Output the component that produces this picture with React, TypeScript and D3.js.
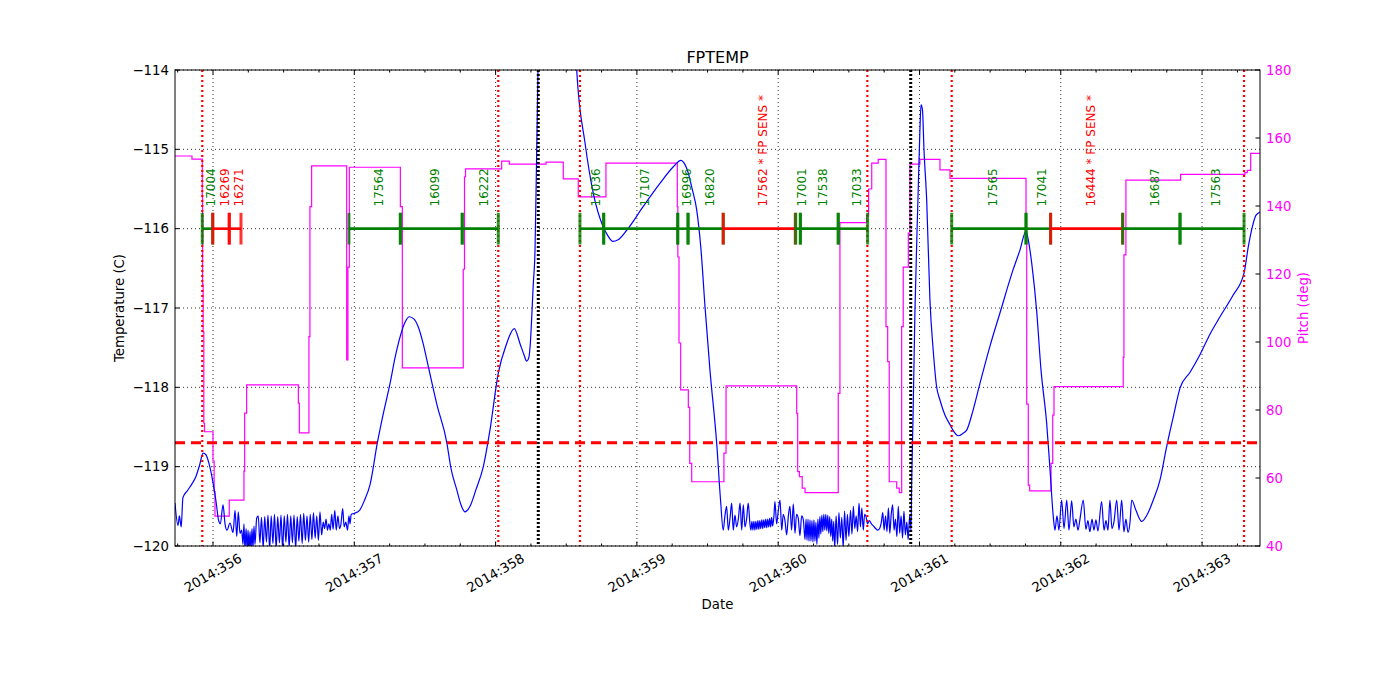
import React from "react";
import * as d3 from "d3";

// axis ticks
const dayTicks = [356, 357, 358, 359, 360, 361, 362, 363];
const tempTicks = [-120, -119, -118, -117, -116, -115, -114];
const pitchTicks = [40, 60, 80, 100, 120, 140, 160, 180];

// event lines (day of year)
const radZoneDays = [355.924, 358.019, 358.597, 360.631, 361.228, 363.297];
const perigeeDays = [358.302, 360.938];
const planningLimit = -118.7;

// observations
const obsLabels = [
  "17004", "16269", "16271", "17564", "16099", "16222", "17036", "17107", "16996", "16820",
  "17562 * FP SENS *", "17001", "17538", "17033", "17565", "17041", "16444 * FP SENS *", "16687", "17563",
];
const obsStart = [
  355.924, 355.998, 356.115, 356.962, 357.326, 357.764, 358.597, 358.765, 359.289, 359.362,
  359.611, 360.124, 360.157, 360.425, 361.228, 361.754, 361.928, 362.438, 362.844,
];
const obsStop = [
  355.998, 356.115, 356.198, 357.326, 357.764, 358.019, 358.765, 359.289, 359.362, 359.611,
  360.121, 360.157, 360.425, 360.633, 361.754, 361.928, 362.438, 362.844, 363.297,
];
const obsSensitive = [
  false, true, true, false, false, false, false, false, false, false,
  true, false, false, false, false, false, true, false, false,
];

// FPTEMP (C)
const fptemp: [number, number][] = [
  [355.731, -119.46], [355.752, -119.74], [355.762, -119.62], [355.775, -119.76], [355.787, -119.39],
  [355.82, -119.3], [355.85, -119.22], [355.88, -119.12], [355.905, -118.98], [355.93, -118.83],
  [355.95, -118.85], [355.97, -118.95], [356.0, -119.2], [356.02, -119.42], [356.04, -119.68], [356.052, -119.72],
  [356.071, -119.48], [356.085, -119.72], [356.099, -119.8], [356.12, -119.71], [356.142, -119.83],
  [356.156, -119.55], [356.168, -119.88], [356.179, -119.57], [356.191, -119.84], [356.203, -119.8],
  [356.212, -119.98], [356.219, -119.72], [356.226, -120.05], [356.234, -119.78], [356.241, -120.05],
  [356.248, -119.8], [356.255, -120.05], [356.262, -119.82], [356.269, -120.05], [356.276, -119.78],
  [356.283, -120.03], [356.29, -119.75], [356.297, -119.98], [356.309, -119.65],
  [356.32, -119.62], [356.332, -119.96], [356.343, -119.64], [356.355, -120.02], [356.366, -119.63],
  [356.378, -119.95], [356.389, -119.61], [356.401, -120.04], [356.412, -119.62], [356.424, -119.97],
  [356.435, -119.6], [356.447, -120.03], [356.458, -119.63], [356.47, -119.96], [356.481, -119.61],
  [356.493, -120.04], [356.504, -119.62], [356.516, -119.95], [356.527, -119.6], [356.539, -120.02],
  [356.55, -119.62], [356.562, -119.96], [356.573, -119.61], [356.585, -120.03], [356.596, -119.63],
  [356.608, -119.94], [356.619, -119.6], [356.631, -119.97], [356.642, -119.59], [356.654, -119.93],
  [356.665, -119.62], [356.677, -119.95], [356.688, -119.6], [356.7, -119.92], [356.711, -119.58],
  [356.723, -119.9], [356.734, -119.62], [356.746, -119.93], [356.757, -119.57], [356.769, -119.86],
  [356.78, -119.7], [356.79, -119.78], [356.8, -119.66], [356.81, -119.8], [356.82, -119.72],
  [356.83, -119.8], [356.84, -119.6], [356.85, -119.79], [356.862, -119.55], [356.872, -119.8],
  [356.884, -119.62], [356.895, -119.78], [356.905, -119.73], [356.918, -119.53], [356.928, -119.76],
  [356.94, -119.7], [356.952, -119.8], [356.962, -119.62], [356.97, -119.72], [356.978, -119.6],
  [356.997, -119.59], [357.037, -119.55], [357.073, -119.42], [357.111, -119.23], [357.163, -118.7],
  [357.203, -118.35], [357.253, -117.95], [357.288, -117.63], [357.323, -117.37], [357.359, -117.18],
  [357.389, -117.11], [357.423, -117.14], [357.453, -117.24], [357.486, -117.44], [357.524, -117.74],
  [357.585, -118.22], [357.654, -118.69], [357.684, -119.02], [357.725, -119.29], [357.755, -119.48],
  [357.783, -119.57], [357.819, -119.5], [357.861, -119.29], [357.913, -119.0], [357.96, -118.54],
  [358.019, -117.82], [358.074, -117.47], [358.132, -117.26], [358.173, -117.45], [358.201, -117.59],
  [358.22, -117.67], [358.236, -117.62], [358.244, -117.49], [358.267, -116.69], [358.279, -116.27],
  [358.291, -115.01], [358.3, -114.0], [358.307, -113.12], [358.44, -111.0], [358.562, -113.5],
  [358.574, -114.0], [358.633, -114.92], [358.691, -115.55], [358.762, -115.98], [358.795, -116.09],
  [358.829, -116.16], [358.867, -116.14], [358.928, -116.02], [359.045, -115.72], [359.163, -115.43],
  [359.258, -115.22], [359.312, -115.14], [359.333, -115.17], [359.364, -115.3], [359.39, -115.49],
  [359.423, -115.76], [359.454, -116.27], [359.482, -116.98], [359.517, -117.78], [359.565, -118.71],
  [359.592, -119.42], [359.611, -119.8],
  [359.623, -119.62], [359.635, -119.5], [359.647, -119.8], [359.659, -119.65], [359.671, -119.46],
  [359.682, -119.8], [359.694, -119.61], [359.706, -119.76], [359.718, -119.66], [359.73, -119.46],
  [359.742, -119.8], [359.753, -119.48], [359.765, -119.76], [359.777, -119.65], [359.788, -119.46],
  [359.8, -119.72], [359.807, -119.8], [359.814, -119.69], [359.821, -119.8], [359.828, -119.69],
  [359.835, -119.8], [359.842, -119.69], [359.849, -119.79], [359.856, -119.68], [359.863, -119.79],
  [359.87, -119.68], [359.877, -119.78], [359.884, -119.67], [359.891, -119.78], [359.898, -119.67],
  [359.905, -119.77], [359.912, -119.66], [359.919, -119.77], [359.926, -119.66], [359.933, -119.76],
  [359.94, -119.65], [359.947, -119.76], [359.954, -119.64], [359.961, -119.75], [359.97, -119.62],
  [359.977, -119.44], [359.989, -119.72], [360.001, -119.55], [360.013, -119.42], [360.025, -119.8],
  [360.036, -119.6], [360.048, -119.68], [360.06, -119.86], [360.072, -119.62], [360.083, -119.5],
  [360.095, -119.8], [360.107, -119.47], [360.119, -119.84], [360.13, -119.6], [360.142, -119.65],
  [360.154, -119.87], [360.166, -119.62], [360.178, -119.67], [360.19, -119.92], [360.197, -119.66],
  [360.204, -119.93], [360.211, -119.66], [360.218, -119.94], [360.225, -119.67], [360.232, -119.94],
  [360.239, -119.68], [360.246, -119.95], [360.253, -119.67], [360.26, -119.94], [360.267, -119.7],
  [360.274, -119.98], [360.281, -119.66], [360.288, -119.9], [360.295, -119.63], [360.302, -119.85],
  [360.309, -119.61], [360.316, -119.82], [360.323, -119.6], [360.33, -119.8], [360.337, -119.6],
  [360.344, -119.81], [360.351, -119.61], [360.358, -119.84], [360.365, -119.63], [360.372, -119.88],
  [360.379, -119.66], [360.386, -119.94], [360.393, -119.69], [360.4, -120.02], [360.41, -119.62],
  [360.42, -119.98], [360.43, -119.58], [360.44, -119.9], [360.45, -119.64], [360.46, -120.02],
  [360.47, -119.56], [360.48, -119.93], [360.49, -119.6], [360.5, -119.88], [360.512, -119.55],
  [360.522, -119.85], [360.532, -119.5], [360.542, -119.78], [360.552, -119.62], [360.562, -119.82],
  [360.572, -119.46], [360.582, -119.76], [360.592, -119.52], [360.602, -119.8], [360.612, -119.6],
  [360.622, -119.63], [360.632, -119.72], [360.645, -119.68], [360.66, -119.72], [360.675, -119.75],
  [360.69, -119.78], [360.705, -119.8], [360.718, -119.78], [360.73, -119.7], [360.74, -119.58],
  [360.75, -119.8], [360.76, -119.62], [360.77, -119.82], [360.78, -119.52], [360.79, -119.84],
  [360.8, -119.6], [360.81, -119.48], [360.82, -119.8], [360.83, -119.66], [360.84, -119.88],
  [360.85, -119.5], [360.86, -119.84], [360.87, -119.62], [360.88, -119.9], [360.89, -119.56],
  [360.9, -119.86], [360.91, -119.7], [360.92, -119.92], [360.93, -119.62], [360.94, -119.8],
  [360.945, -119.17], [360.954, -118.41], [360.968, -117.03], [360.989, -115.64], [361.003, -114.76],
  [361.011, -114.44], [361.021, -114.5], [361.032, -115.01], [361.051, -115.64], [361.074, -116.9],
  [361.097, -117.53], [361.121, -117.99], [361.145, -118.16], [361.18, -118.35], [361.216, -118.47],
  [361.237, -118.54], [361.274, -118.61], [361.308, -118.58], [361.334, -118.54], [361.379, -118.29],
  [361.428, -117.95], [361.499, -117.48], [361.57, -117.06], [361.662, -116.52], [361.711, -116.27],
  [361.754, -116.03], [361.77, -116.14], [361.796, -116.46], [361.829, -117.03], [361.86, -117.78],
  [361.9, -118.45], [361.924, -119.04], [361.947, -119.63], [361.959, -119.8],
  [361.973, -119.62], [361.987, -119.8], [362.006, -119.42], [362.023, -119.78], [362.042, -119.42],
  [362.058, -119.8], [362.077, -119.43], [362.093, -119.76], [362.107, -119.66], [362.122, -119.8],
  [362.136, -119.66], [362.159, -119.42], [362.178, -119.79], [362.192, -119.68], [362.206, -119.82],
  [362.221, -119.66], [362.235, -119.8], [362.249, -119.67], [362.263, -119.81], [362.289, -119.44],
  [362.306, -119.8], [362.32, -119.68], [362.334, -119.8], [362.348, -119.42], [362.362, -119.78],
  [362.376, -119.7], [362.396, -119.42], [362.412, -119.8], [362.431, -119.42], [362.447, -119.82],
  [362.461, -119.66], [362.476, -119.83], [362.49, -119.7], [362.502, -119.42],
  [362.532, -119.55], [362.573, -119.69], [362.61, -119.61], [362.655, -119.42], [362.702, -119.17],
  [362.749, -118.75], [362.794, -118.39], [362.844, -118.01], [362.915, -117.81], [362.985, -117.59],
  [363.056, -117.33], [363.127, -117.11], [363.219, -116.84], [363.297, -116.56], [363.327, -116.23],
  [363.354, -115.99], [363.382, -115.83], [363.41, -115.79],
];

// pitch (deg), held until the next sample
const pitch: [number, number][] = [
  [355.731, 154.7], [355.851, 153.8], [355.924, 142.7], [355.926, 117.0], [355.93, 103.0],
  [355.935, 76.1], [355.94, 73.6], [356.0, 65.0], [356.008, 56.0], [356.014, 48.8],
  [356.115, 53.5], [356.219, 62.0], [356.224, 79.1], [356.238, 87.4], [356.604, 82.0],
  [356.611, 73.3], [356.679, 101.6], [356.686, 139.8], [356.698, 151.8], [356.946, 94.7],
  [356.955, 122.0], [356.965, 151.4], [357.326, 139.8], [357.34, 92.4], [357.771, 121.4],
  [357.78, 148.6], [357.787, 150.9], [358.043, 153.2], [358.097, 152.3], [358.357, 152.9],
  [358.479, 148.0], [358.585, 142.7], [358.781, 152.6], [359.286, 139.8], [359.29, 125.0],
  [359.298, 99.7], [359.31, 85.9], [359.364, 80.8], [359.374, 64.3], [359.388, 58.9],
  [359.616, 67.3], [359.631, 87.1], [360.131, 79.0], [360.138, 61.9], [360.15, 60.4],
  [360.17, 57.0], [360.19, 55.7], [360.425, 84.9], [360.437, 135.1], [360.626, 137.4],
  [360.64, 145.0], [360.662, 152.6], [360.708, 153.7], [360.763, 104.5], [360.775, 94.2],
  [360.786, 58.9], [360.839, 57.0], [360.857, 55.7], [360.874, 104.5], [360.885, 122.0],
  [360.921, 132.0], [360.933, 152.3], [361.003, 153.7], [361.145, 150.6], [361.216, 148.1],
  [361.754, 130.0], [361.759, 81.7], [361.77, 57.9], [361.78, 56.2], [361.931, 64.3],
  [361.943, 78.5], [361.952, 86.9], [362.442, 95.5], [362.447, 125.6], [362.461, 147.6],
  [362.848, 149.3], [363.303, 149.8], [363.32, 150.5], [363.344, 155.5], [363.41, 155.5],
];

const font = "DejaVu Sans, Verdana, sans-serif";
const minus = (v: number) => String(v).replace("-", "\u2212");

export default function App() {
  const left = 175, right = 1260, top = 70, bottom = 546;
  const x = d3.scaleLinear().domain([355.731, 363.41]).range([left, right]);
  const yT = d3.scaleLinear().domain([-120, -114]).range([bottom, top]);
  const yP = d3.scaleLinear().domain([40, 180]).range([bottom, top]);

  const tempPath = d3.line<[number, number]>().x((d) => x(d[0])).y((d) => yT(d[1])).curve(d3.curveMonotoneX)(fptemp) || "";
  const pitchPath = d3.line<[number, number]>().x((d) => x(d[0])).y((d) => yP(d[1])).curve(d3.curveStepAfter)(pitch) || "";
  const minorTicks = d3.range(355.75, 363.41, 0.25).filter((d) => Math.abs(d - Math.round(d)) > 0.01);

  const barY = yT(-116);
  const capHalf = yT(-116.2) - yT(-116);
  const labelBase = yT(-115.72);

  return (
    <div style={{ position: "absolute", left: 0, top: 0 }}>
      <svg width={1400} height={700} style={{ display: "block", background: "#fff" }} fontFamily={font}>
        <defs>
          <clipPath id="plot">
            <rect x={left} y={top} width={right - left} height={bottom - top} />
          </clipPath>
        </defs>

        {/* grid */}
        {dayTicks.map((d) => (
          <line key={"gx" + d} x1={x(d)} x2={x(d)} y1={top} y2={bottom} stroke="#000" strokeWidth={0.8} strokeDasharray="1,3" />
        ))}
        {tempTicks.map((t) => (
          <line key={"gy" + t} x1={left} x2={right} y1={yT(t)} y2={yT(t)} stroke="#000" strokeWidth={0.8} strokeDasharray="1,3" />
        ))}

        <g clipPath="url(#plot)">
          <path d={pitchPath} fill="none" stroke="#ff00ff" strokeWidth={1.2} />
          <path d={tempPath} fill="none" stroke="#0000ff" strokeWidth={1.2} strokeLinejoin="round" />

          {radZoneDays.map((d) => (
            <line key={"rz" + d} x1={x(d)} x2={x(d)} y1={top} y2={bottom} stroke="#ff0000" strokeWidth={2.2} strokeDasharray="2,3" />
          ))}
          {perigeeDays.map((d) => (
            <line key={"pg" + d} x1={x(d)} x2={x(d)} y1={top} y2={bottom} stroke="#000" strokeWidth={3} strokeDasharray="2,2" />
          ))}
          <line x1={left} x2={right} y1={yT(planningLimit)} y2={yT(planningLimit)} stroke="#ff0000" strokeWidth={3} strokeDasharray="10,6" />

          {obsLabels.map((lab, i) => {
            const c = obsSensitive[i] ? "#ff0000" : "#008000";
            const x0 = x(obsStart[i]);
            const x1 = x(obsStop[i]);
            return (
              <g key={"ob" + i}>
                <line x1={x0} x2={x1} y1={barY} y2={barY} stroke={c} strokeWidth={2.6} />
                <line x1={x0} x2={x0} y1={barY - capHalf} y2={barY + capHalf} stroke={c} strokeWidth={3} opacity={0.8} />
                <line x1={x1} x2={x1} y1={barY - capHalf} y2={barY + capHalf} stroke={c} strokeWidth={3} opacity={0.8} />
              </g>
            );
          })}
        </g>

        {obsLabels.map((lab, i) => {
          const c = obsSensitive[i] ? "#ff0000" : "#008000";
          const xm = x((obsStart[i] + obsStop[i]) / 2) + 4;
          return (
            <text key={"ol" + i} transform={`translate(${xm},${labelBase}) rotate(-90)`} fontSize={12} fill={c} dominantBaseline="central">
              {lab}
            </text>
          );
        })}

        {/* frame */}
        <rect x={left} y={top} width={right - left} height={bottom - top} fill="none" stroke="#000" strokeWidth={1} />

        {/* x ticks */}
        {dayTicks.map((d) => (
          <g key={"tx" + d}>
            <line x1={x(d)} x2={x(d)} y1={bottom} y2={bottom - 4.5} stroke="#000" />
            <line x1={x(d)} x2={x(d)} y1={top} y2={top + 4.5} stroke="#000" />
            <text transform={`translate(${x(d)},573) rotate(-30)`} textAnchor="middle" dominantBaseline="central" fontSize={13.3} fill="#000">
              {"2014:" + d}
            </text>
          </g>
        ))}
        {minorTicks.map((d) => (
          <g key={"mx" + d}>
            <line x1={x(d)} x2={x(d)} y1={bottom} y2={bottom - 2.5} stroke="#000" />
            <line x1={x(d)} x2={x(d)} y1={top} y2={top + 2.5} stroke="#000" />
          </g>
        ))}

        {/* left axis */}
        {tempTicks.map((t) => (
          <g key={"ty" + t}>
            <line x1={left} x2={left + 4.5} y1={yT(t)} y2={yT(t)} stroke="#000" />
            <text x={169} y={yT(t)} textAnchor="end" dominantBaseline="central" fontSize={13.3} fill="#000">
              {minus(t)}
            </text>
          </g>
        ))}

        {/* right axis */}
        {pitchTicks.map((p) => (
          <g key={"py" + p}>
            <line x1={right} x2={right - 4.5} y1={yP(p)} y2={yP(p)} stroke="#000" />
            <text x={1266} y={yP(p)} dominantBaseline="central" fontSize={13.3} fill="#ff00ff">
              {p}
            </text>
          </g>
        ))}

        <text x={(left + right) / 2} y={63} textAnchor="middle" fontSize={16} fill="#000">FPTEMP</text>
        <text x={(left + right) / 2} y={609} textAnchor="middle" fontSize={13.3} fill="#000">Date</text>
        <text transform={`translate(119.5,${(top + bottom) / 2}) rotate(-90)`} textAnchor="middle" dominantBaseline="central" fontSize={13.3} fill="#000">
          Temperature (C)
        </text>
        <text transform={`translate(1303,${(top + bottom) / 2}) rotate(-90)`} textAnchor="middle" dominantBaseline="central" fontSize={13.3} fill="#ff00ff">
          Pitch (deg)
        </text>
      </svg>
    </div>
  );
}
